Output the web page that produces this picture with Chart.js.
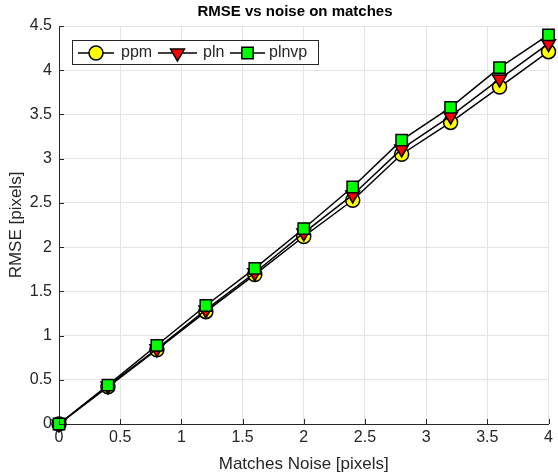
<!DOCTYPE html>
<html>
<head>
<meta charset="utf-8">
<script src="https://cdn.jsdelivr.net/npm/chart.js@4"></script>
<style>
  html, body { margin: 0; padding: 0; background: #fff; }
  #wrap { width: 558px; height: 475px; }
</style>
</head>
<body>
<div id="wrap"><canvas id="rmseChart" width="558" height="475"></canvas></div>
<script>
// noise levels on the matches (x axis)
const noiseLevels = [0, 0.4, 0.8, 1.2, 1.6, 2.0, 2.4, 2.8, 3.2, 3.6, 4.0];
// RMSE per method
const ppmRmse   = [0, 0.42, 0.84, 1.27, 1.69, 2.12, 2.53, 3.05, 3.41, 3.81, 4.21];
const plnRmse   = [0, 0.43, 0.85, 1.29, 1.71, 2.16, 2.59, 3.11, 3.48, 3.90, 4.30];
const plnvpRmse = [0, 0.44, 0.89, 1.34, 1.76, 2.21, 2.68, 3.21, 3.58, 4.03, 4.40];
const seriesNames = ['ppm', 'pln', 'plnvp'];
const xTicks = [0, 0.5, 1, 1.5, 2, 2.5, 3, 3.5, 4];
const yTicks = [0, 0.5, 1, 1.5, 2, 2.5, 3, 3.5, 4, 4.5];

const FONT = '"Liberation Sans", Arial, Helvetica, sans-serif';
const textColor = '#262626';

function toPoints(vals) {
    return vals.map((v, i) => ({ x: noiseLevels[i], y: v }));
}

const styles = [
    { pointStyle: 'circle', bg: '#ffff00', radius: 7, rotation: 0 },
    { pointStyle: 'triangle', bg: '#ff0000', radius: 8, rotation: 180 },
    { pointStyle: 'rect', bg: '#00ff00', radius: 8, rotation: 0 }
];

// title, axis titles, inside ticks and boxed legend
const decorPlugin = {
    id: 'decor',
    afterDraw(chart) {
        const ctx = chart.ctx;
        const area = chart.chartArea;
        const xs = chart.scales.x, ys = chart.scales.y;
        ctx.save();

        // tick marks pointing inward
        ctx.strokeStyle = textColor;
        ctx.lineWidth = 1;
        ctx.beginPath();
        xTicks.forEach(t => {
            const px = Math.round(xs.getPixelForValue(t)) + 0.5;
            ctx.moveTo(px, area.bottom);
            ctx.lineTo(px, area.bottom - 5);
        });
        yTicks.forEach(t => {
            const py = Math.round(ys.getPixelForValue(t)) + 0.5;
            ctx.moveTo(area.left, py);
            ctx.lineTo(area.left + 5, py);
        });
        ctx.stroke();

        // title
        ctx.fillStyle = '#000';
        ctx.font = 'bold 15px ' + FONT;
        ctx.textAlign = 'center';
        ctx.textBaseline = 'middle';
        ctx.fillText('RMSE vs noise on matches', 295, 12);

        // axis titles
        ctx.fillStyle = textColor;
        ctx.font = '17px ' + FONT;
        ctx.fillText('Matches Noise [pixels]', (area.left + area.right) / 2, 464);
        ctx.save();
        ctx.translate(16, (area.top + area.bottom) / 2);
        ctx.rotate(-Math.PI / 2);
        ctx.fillText('RMSE [pixels]', 0, 0);
        ctx.restore();

        // legend box
        const bx = 72, by = 40, bw = 246, bh = 24;
        ctx.fillStyle = '#fff';
        ctx.fillRect(bx, by, bw, bh);
        ctx.strokeStyle = '#262626';
        ctx.lineWidth = 1;
        ctx.strokeRect(bx + 0.5, by + 0.5, bw, bh);

        const entries = [
            { x0: 78, x1: 114, tx: 121 },
            { x0: 158, x1: 197, tx: 203 },
            { x0: 230, x1: 265, tx: 269 }
        ];
        const cy = by + bh / 2 + 1;
        entries.forEach((e, i) => {
            const st = styles[i];
            ctx.strokeStyle = '#000';
            ctx.lineWidth = 1.5;
            ctx.beginPath();
            ctx.moveTo(e.x0, cy);
            ctx.lineTo(e.x1, cy);
            ctx.stroke();
            ctx.fillStyle = st.bg;
            ctx.lineWidth = 1.5;
            Chart.helpers.drawPoint(ctx, {
                pointStyle: st.pointStyle,
                radius: st.radius,
                rotation: st.rotation,
                borderWidth: 1.5
            }, (e.x0 + e.x1) / 2, cy);
            ctx.fillStyle = textColor;
            ctx.font = '16px ' + FONT;
            ctx.textAlign = 'left';
            ctx.textBaseline = 'middle';
            ctx.fillText(seriesNames[i], e.tx, cy);
        });

        ctx.restore();
    }
};

function makeDataset(label, vals, i, order) {
    const st = styles[i];
    return {
        label: label,
        data: toPoints(vals),
        borderColor: '#000',
        borderWidth: 1.5,
        backgroundColor: st.bg,
        pointBackgroundColor: st.bg,
        pointBorderColor: '#000',
        pointBorderWidth: 1.5,
        pointStyle: st.pointStyle,
        pointRadius: st.radius,
        pointRotation: st.rotation,
        pointHoverRadius: st.radius,
        tension: 0,
        clip: false,
        order: order
    };
}

const plainLabel = v => String(Number(v));

const ctx = document.getElementById('rmseChart').getContext('2d');
const rmseChart = new Chart(ctx, {
    type: 'line',
    data: {
        datasets: [
            makeDataset(seriesNames[0], ppmRmse, 0, 3),
            makeDataset(seriesNames[1], plnRmse, 1, 2),
            makeDataset(seriesNames[2], plnvpRmse, 2, 1)
        ]
    },
    options: {
        responsive: false,
        animation: false,
        events: [],
        layout: { padding: { top: 26, right: 0, bottom: 0, left: 0 } },
        plugins: {
            legend: { display: false },
            title: { display: false },
            tooltip: { enabled: false }
        },
        scales: {
            x: {
                type: 'linear',
                min: 0,
                max: 4,
                afterFit: s => {
                    s.height = 51;
                    s.paddingLeft = 0;
                    s.paddingRight = 0;
                },
                afterBuildTicks: s => { s.ticks = xTicks.map(v => ({ value: v })); },
                grid: { color: '#e3e3e3', lineWidth: 1, drawTicks: false },
                border: { color: textColor, width: 1 },
                ticks: {
                    padding: 4,
                    color: textColor,
                    font: { family: FONT, size: 16 },
                    maxRotation: 0,
                    callback: plainLabel
                }
            },
            y: {
                type: 'linear',
                min: 0,
                max: 4.5,
                afterFit: s => {
                    s.width = 59;
                    s.paddingTop = 0;
                    s.paddingBottom = 0;
                },
                afterBuildTicks: s => { s.ticks = yTicks.map(v => ({ value: v })); },
                grid: { color: '#e3e3e3', lineWidth: 1, drawTicks: false },
                border: { color: textColor, width: 1 },
                ticks: {
                    padding: 7,
                    color: textColor,
                    font: { family: FONT, size: 16 },
                    callback: plainLabel
                }
            }
        }
    },
    plugins: [decorPlugin]
});
</script>
</body>
</html>
